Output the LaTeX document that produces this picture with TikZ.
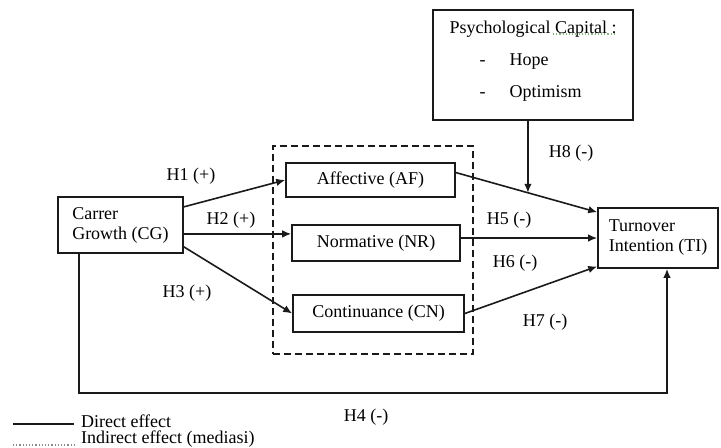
\documentclass[tikz,border=0pt]{standalone}
\usepackage{fontspec}
\setmainfont{Liberation Serif}
\usepackage{tikz}
\usetikzlibrary{arrows.meta,positioning,calc}
\definecolor{ink}{HTML}{1A1A1A}
\definecolor{spellgreen}{HTML}{7FB77F}
\definecolor{dotgray}{HTML}{8A8A8A}

\begin{document}
\begin{tikzpicture}[x=0.5pt,y=-0.5pt,font=\fontsize{9}{10}\selectfont,
  box/.style={draw=ink,line width=0.8pt,inner sep=0pt,align=center},
  link/.style={draw=ink,line width=0.8pt,-{Latex[length=4.5pt,width=3.8pt]}}]
  \clip (0,0) rectangle (721,447);
  % moderator
  \node[box,minimum width=100pt,minimum height=55pt,align=left,text depth=6pt] (psych) at (533,65)
    {Psychological Capital :\\[6pt]\hspace{15pt}-\hspace{12pt}Hope\\[6pt]\hspace{15pt}-\hspace{12pt}Optimism};
  \draw[spellgreen,densely dotted,line width=0.6pt] (553,34) -- (615,34);
  % independent and dependent
  \node[box,minimum width=62.5pt,minimum height=28pt,align=left] (cg) at (120.5,225) {Carrer\\Growth (CG)};
  \node[box,minimum width=60pt,minimum height=30pt,align=left] (ti) at (658,238) {Turnover\\Intention (TI)};
  % mediators
  \node[draw=ink,line width=0.8pt,dash pattern=on 3.5pt off 2pt,minimum width=100pt,minimum height=104pt] (mediasi) at (373,250) {};
  \node[box,minimum width=84.5pt,minimum height=17pt] (af) at (370.5,180) {Affective (AF)};
  \node[box,minimum width=84pt,minimum height=18pt] (nr) at (376,243) {Normative (NR)};
  \node[box,minimum width=85.5pt,minimum height=18.5pt] (cn) at (378.5,313.5) {Continuance (CN)};
  % paths
  \draw[link] (cg.16) -- (af.west);
  \draw[link] (cg.-8) -- (cg.-8 -| nr.west);
  \draw[link] (cg.-19) -- (cn.west);
  \draw[link] (af.5) -- (ti.157);
  \draw[link] (ti.west -| nr.east) -- (ti.west);
  \draw[link] (cn.east) -- (ti.205);
  \coordinate (mod) at ($(af.5)!0.51!(ti.157)$);
  \draw[link] (psych.south -| mod) -- (mod);
  \coordinate (tiin) at ([xshift=4.5pt]ti.south);
  \coordinate (bend) at (0,393);
  \draw[link] ([xshift=11pt]cg.south west) |- (tiin |- bend) -- (tiin);
  % hypotheses
  \node (h1) at (191,176) {H1 (+)};
  \node (h2) at (231,220) {H2 (+)};
  \node (h3) at (187,293) {H3 (+)};
  \node (h4) at (366,417) {H4 (-)};
  \node (h5) at (509,220) {H5 (-)};
  \node (h6) at (515,263) {H6 (-)};
  \node (h7) at (545,322) {H7 (-)};
  \node (h8) at (571,153) {H8 (-)};
  % legend
  \node[anchor=west] (direct) at (74,421) {Direct effect};
  \node[anchor=west] (indirect) at (74,439) {Indirect effect (mediasi)};
  \coordinate (key1) at (13,424);
  \coordinate (key2) at (13,445);
  \draw[ink,line width=0.6pt] (key1) -- (key1 -| direct.west);
  \draw[dotgray,densely dotted,line width=0.6pt] (key2) -- (key2 -| indirect.west);
\end{tikzpicture}
\end{document}
